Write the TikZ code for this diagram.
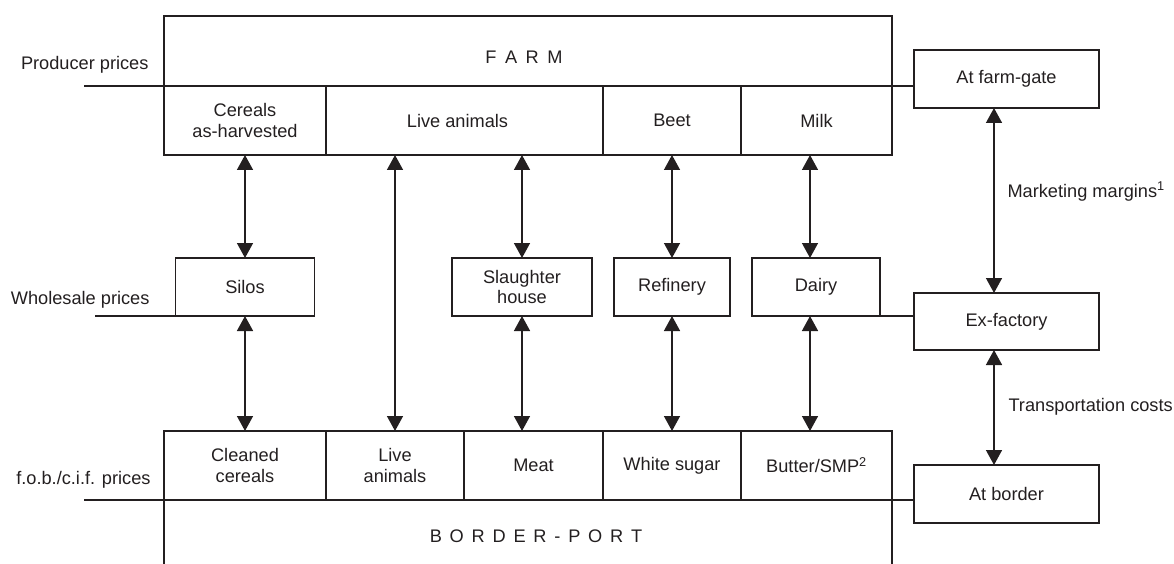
\documentclass[tikz,border=0pt]{standalone}
\usepackage{fontspec}
\setmainfont{Liberation Sans}
\usetikzlibrary{arrows.meta}
\definecolor{ink}{RGB}{35,31,32}
\begin{document}
\begin{tikzpicture}[x=1pt,y=-1pt,
  every node/.style={font=\fontsize{18.2}{20.5}\selectfont, text=ink},
  box/.style={draw=ink, line width=1.6pt, rectangle, inner sep=0pt, outer sep=0pt, align=center},
  link/.style={draw=ink, line width=1.5pt, {Triangle[length=15pt,width=16pt]}-{Triangle[length=15pt,width=16pt]}},
  priceline/.style={draw=ink, line width=1.2pt},
]
\useasboundingbox (0,0) rectangle (1174,564);

% farm block
\node[box, minimum width=728pt, minimum height=70pt] (farm) at (528,51) {};
\node[anchor=base] (farmtitle) at (524,64) {F\hspace{8.5pt}A\hspace{8.5pt}R\hspace{8.5pt}M};
\node[box, minimum width=162pt, minimum height=69pt] (cereals) at (245,120.5) {Cereals\\as-harvested};
\node[box, minimum width=277pt, minimum height=69pt] (liveF) at (464.5,120.5) {Live animals\hspace*{14pt}};
\node[box, minimum width=138pt, minimum height=69pt] (beet) at (672,120.5) {Beet};
\node[box, minimum width=151pt, minimum height=69pt] (milk) at (816.5,120.5) {Milk};

% processing stage
\node[box, minimum width=139pt, minimum height=58pt] (silos) at (245,287) {Silos};
\node[box, minimum width=140pt, minimum height=58pt] (slaughter) at (522,287) {Slaughter\\house};
\node[box, minimum width=116pt, minimum height=58pt] (refinery) at (672,287) {Refinery};
\node[box, minimum width=128pt, minimum height=58pt] (dairy) at (816,287) {Dairy};

% border-port block
\node[box, minimum width=162pt, minimum height=69pt] (cleaned) at (245,465.5) {Cleaned\\cereals};
\node[box, minimum width=138pt, minimum height=69pt] (liveB) at (395,465.5) {Live\\animals};
\node[box, minimum width=139pt, minimum height=69pt] (meat) at (533.5,465.5) {Meat};
\node[box, minimum width=138pt, minimum height=69pt] (sugar) at (672,465.5) {White sugar};
\node[box, minimum width=151pt, minimum height=69pt] (butter) at (816.5,465.5) {Butter/SMP\textsuperscript{2}};
\coordinate (portL) at (164,564);
\coordinate (portR) at (892,564);
\draw[draw=ink, line width=1.6pt] (portL) -- (cleaned.south west) -- (butter.south east) -- (portR);
\node[anchor=base] (porttitle) at (536,542) {B\hspace{7.8pt}O\hspace{7.8pt}R\hspace{7.8pt}D\hspace{7.8pt}E\hspace{7.8pt}R\hspace{7.8pt}-\hspace{7.8pt}P\hspace{7.8pt}O\hspace{7.8pt}R\hspace{7.8pt}T};

% price levels
\node[box, minimum width=185pt, minimum height=58pt] (gate) at (1006.5,79) {At farm-gate};
\node[box, minimum width=185pt, minimum height=57pt] (exf) at (1006.5,321.5) {Ex-factory};
\node[box, minimum width=185pt, minimum height=58pt] (border) at (1006.5,494) {At border};

\node[anchor=base east] (lprod) at (152,70) {Producer prices};
\node[anchor=base east] (lwhole) at (153,304) {Wholesale prices};
\node[anchor=base east] (lfob) at (154,484) {f.o.b./c.i.f. prices};

\coordinate (pp) at (84,86);
\coordinate (wp) at (95,316);
\coordinate (fp) at (84,500);
\draw[priceline] (pp) -- (cereals.north west);
\draw[priceline] (wp) -- (silos.south west);
\draw[priceline] (fp) -- (cleaned.south west);
\draw[priceline] (farm.south east) -- (gate.west |- farm.south east);
\draw[priceline] (dairy.south east) -- (exf.west |- dairy.south east);
\draw[priceline] (butter.south east) -- (border.west |- butter.south east);

% flows between stages
\coordinate (dx) at (810,0);
\coordinate (mx) at (994,0);
\draw[link] (cereals.south) -- (silos.north);
\draw[link] (silos.south) -- (cleaned.north);
\draw[link] (liveF.south -| liveB.north) -- (liveB.north);
\draw[link] (liveF.south -| slaughter.north) -- (slaughter.north);
\draw[link] (slaughter.south) -- (meat.north -| slaughter.south);
\draw[link] (beet.south) -- (refinery.north);
\draw[link] (refinery.south) -- (sugar.north);
\draw[link] (milk.south -| dx) -- (dairy.north -| dx);
\draw[link] (dairy.south -| dx) -- (butter.north -| dx);
\draw[link] (gate.south -| mx) -- (exf.north -| mx);
\draw[link] (exf.south -| mx) -- (border.north -| mx);

\node[anchor=base west] (mm) at (1004,197) {Marketing margins\textsuperscript{1}};
\node[anchor=base west] (tc) at (1005,411) {Transportation costs};
\end{tikzpicture}
\end{document}
